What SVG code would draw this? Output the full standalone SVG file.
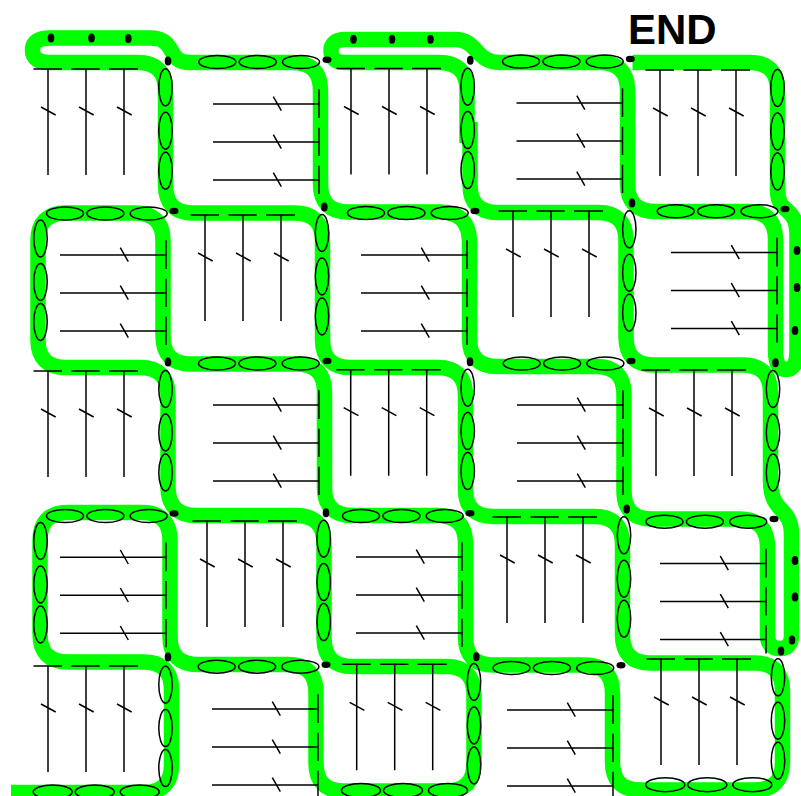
<svg xmlns="http://www.w3.org/2000/svg" width="801" height="796" viewBox="0 0 801 796">
<style>
.s{fill:none;stroke:#0f0;stroke-width:15.5;stroke-linejoin:round}
.k{fill:none;stroke:#000;stroke-width:1.5}
.o{fill:none;stroke:#000;stroke-width:1.5}
.d{fill:#000;stroke:none}
text{font-family:"Liberation Sans",Arial,sans-serif;font-weight:bold;font-size:42px;fill:#000}
</style>
<defs>
<g id="vc"><path class="k" d="M-14.5,0H14M23.5,0H51.7M61,0H90M0,0V106M38,0V106M76,0V106M-7,38L7.7,46M31,38L45.7,46M69,38L83.7,46"/></g>
<g id="hc"><path class="k" d="M0,0H106M0,38H106M0,76H106M106,-14.7V14M106,23.7V52M106,61.7V90M60.3,-7.3L68.3,6.7M60.3,30.7L68.3,44.7M60.3,68.7L68.3,82.7"/></g>
<g id="hv"><ellipse class="o" cx="0" cy="0" rx="18.5" ry="6.5"/><ellipse class="o" cx="40.4" cy="0" rx="18.5" ry="6.5"/><ellipse class="o" cx="83.7" cy="0" rx="18.5" ry="6.5"/></g>
<g id="vv"><ellipse class="o" cx="0" cy="0" rx="6.7" ry="18.5"/><ellipse class="o" cx="0" cy="43.4" rx="6.7" ry="18.5"/><ellipse class="o" cx="0" cy="83.4" rx="6.7" ry="18.5"/></g>
<g id="hb"><ellipse class="o" cx="0" cy="0" rx="19.5" ry="7"/><ellipse class="o" cx="42" cy="0" rx="19.5" ry="7"/><ellipse class="o" cx="87" cy="0" rx="19.5" ry="7"/></g>
</defs>
<g id="connectors">
<path id="ribbon-a" class="s" d="M632.5,62.5H749.5Q777.5,62.5 777.5,90.5V190C777.5,215 797,205 797,235V350Q797,369.5 786,369.5Q775.5,369.5 775.5,350V239.5Q775.5,211.5 747.5,211.5H655.5Q627.5,211.5 627.5,183.5V90.5Q627.5,62.5 599.5,62.5H500C475,62.5 478,39.5 455,39.5H345Q331,39.5 331,51Q331,62.5 345,62.5H439Q467,62.5 467,90.5V143"/>
<path id="ribbon-b" class="s" d="M470,122V184.5Q470,212.5 498,212.5H598Q626,212.5 626,240.5V337Q626,365 654,365H742.5Q770.5,365 770.5,393V480C770.5,515 791.5,505 791.5,535V635Q791.5,648.5 780,648.5Q767.5,648.5 767.5,635V547Q767.5,519 739.5,519H652Q624,519 624,491V394.5Q624,366.5 596,366.5H497.5Q469.5,366.5 469.5,338.5V240Q468,212 440,212H348.5Q320.5,212 320.5,184V90.5Q320.5,62.5 292.5,62.5H190C165,62.5 178,38 150,38H50Q32.5,38 32.5,50Q32.5,62.5 50,62.5H137.5Q165.5,62.5 165.5,90.5V185Q165.5,213 193.5,213H294.5Q322.5,213 322.5,241V339.5Q322.5,367.5 350.5,367.5H437.5Q465.5,367.5 465.5,395.5V489.5Q465.5,516.5 493.5,516.5H594.5Q622.5,516.5 622.5,544.5V635Q622.5,663 650.5,663H754.5Q782.5,663 782.5,691V762Q782.5,790 754.5,790H640.5Q612.5,790 612.5,762V693Q612.5,665 584.5,665H493.5Q465.5,665 465.5,637V543.5Q465.5,515.5 437.5,515.5H352.5Q324.5,515.5 324.5,487.5V392Q324.5,364 296.5,364H191Q163,364 163,336V241Q163,213 135,213H66Q38,213 38,241V339.5Q38,367.5 66,367.5H140Q168,367.5 168,395.5V487.5Q168.5,515.5 196.5,515.5H296Q324,515.5 324,543.5V638.5Q324.5,666.5 352.5,666.5H446Q474,666.5 474,694.5V763Q474,791 446,791H344Q316,791 316,763V692.5Q316,664.5 288,664.5H198Q170,664.5 170,636.5V540.5Q170,512.5 142,512.5H68Q40,512.5 40,540.5V634Q40,662 68,662H143.5Q171.5,662 171.5,690V764.5Q171.5,792.5 143.5,792.5H11"/>
</g>
<g id="v-cells">
<use id="v1" href="#vc" x="48" y="69"/><use id="v2" href="#vc" x="351" y="68.5"/><use id="v3" href="#vc" x="660" y="70"/>
<use id="v4" href="#vc" x="205" y="215"/><use id="v5" href="#vc" x="513" y="211"/>
<use id="v6" href="#vc" x="48" y="371"/><use id="v7" href="#vc" x="350.7" y="369.7"/><use id="v8" href="#vc" x="656" y="370"/>
<use id="v9" href="#vc" x="207" y="521"/><use id="v10" href="#vc" x="507" y="517"/>
<use id="v11" href="#vc" x="48" y="666"/><use id="v12" href="#vc" x="356.7" y="664.3"/><use id="v13" href="#vc" x="661" y="659"/>
</g>
<g id="h-cells">
<use id="h1" href="#hc" x="213" y="104"/><use id="h2" href="#hc" x="516.5" y="103"/>
<use id="h3" href="#hc" x="60" y="255"/><use id="h4" href="#hc" x="361" y="255"/><use id="h5" href="#hc" x="671" y="252.5"/>
<use id="h6" href="#hc" x="213" y="405"/><use id="h7" href="#hc" x="517" y="405"/>
<use id="h8" href="#hc" x="60" y="557.3"/><use id="h9" href="#hc" x="356" y="557"/><use id="h10" href="#hc" x="660" y="563.5"/>
<use id="h11" href="#hc" x="212" y="709"/><use id="h12" href="#hc" x="507" y="710"/>
</g>
<g id="h-ovals">
<use href="#hv" x="217.3" y="62"/><use href="#hv" x="521" y="61.5"/>
<use href="#hv" x="65" y="213.5"/><use href="#hv" x="366" y="213"/><use href="#hv" x="675.7" y="211.3"/>
<use href="#hv" x="217" y="363.5"/><use href="#hv" x="521.7" y="363.5"/>
<use href="#hv" x="65" y="516"/><use href="#hv" x="361" y="516"/><use href="#hv" x="664.5" y="521.7"/>
<use href="#hv" x="216.7" y="666.7"/><use href="#hv" x="511.5" y="668"/>
<use href="#hb" x="52.7" y="792"/><use href="#hb" x="361" y="790.5"/><use href="#hb" x="665.3" y="784.7"/>
</g>
<g id="v-ovals">
<use href="#vv" x="165.5" y="87.3"/><use href="#vv" x="467.7" y="86.7"/><use href="#vv" x="777.5" y="88"/>
<use href="#vv" x="40.5" y="238.5"/><use href="#vv" x="322" y="233"/><use href="#vv" x="629.3" y="229.3"/>
<use href="#vv" x="165.5" y="389"/><use href="#vv" x="467.7" y="387.7"/><use href="#vv" x="773" y="389"/>
<use href="#vv" x="40.5" y="541"/><use href="#vv" x="323.7" y="538.7"/><use href="#vv" x="624" y="535.3"/>
<use href="#vv" x="165.5" y="684.7"/><use href="#vv" x="474" y="682"/><use href="#vv" x="778" y="677.3"/>
</g>
<g id="dots" class="d">
<ellipse cx="51" cy="38" rx="3.3" ry="4.5"/><ellipse cx="91.5" cy="38" rx="3.3" ry="4.5"/><ellipse cx="128.3" cy="38.5" rx="3.3" ry="4.5"/>
<ellipse cx="168" cy="61" rx="3.3" ry="4.5"/><ellipse cx="327" cy="59.7" rx="4.5" ry="3.3"/>
<ellipse cx="353.5" cy="39.3" rx="3.3" ry="4.5"/><ellipse cx="392" cy="39.3" rx="3.3" ry="4.5"/><ellipse cx="430.5" cy="39.3" rx="3.3" ry="4.5"/>
<ellipse cx="470.3" cy="60.3" rx="3.3" ry="4.5"/><ellipse cx="630.3" cy="59" rx="4.5" ry="3.3"/>
<ellipse cx="174" cy="211" rx="4.5" ry="3.3"/><ellipse cx="324.3" cy="207" rx="3.3" ry="4.5"/><ellipse cx="475" cy="211" rx="4.5" ry="3.3"/>
<ellipse cx="632" cy="203" rx="3.3" ry="4.5"/><ellipse cx="785" cy="209" rx="4.5" ry="3.3"/>
<ellipse cx="797" cy="250.5" rx="3.3" ry="4.5"/><ellipse cx="797" cy="287.5" rx="3.3" ry="4.5"/><ellipse cx="795" cy="330.5" rx="3.3" ry="4.5"/>
<ellipse cx="168" cy="362" rx="3.3" ry="4.5"/><ellipse cx="327" cy="361" rx="4.5" ry="3.3"/><ellipse cx="470" cy="361.7" rx="3.3" ry="4.5"/>
<ellipse cx="631" cy="361" rx="4.5" ry="3.3"/><ellipse cx="775.5" cy="362.7" rx="3.3" ry="4.5"/>
<ellipse cx="174" cy="513.5" rx="4.5" ry="3.3"/><ellipse cx="326" cy="512.7" rx="3.3" ry="4.5"/><ellipse cx="470" cy="513.3" rx="4.5" ry="3.3"/>
<ellipse cx="626.7" cy="509" rx="3.3" ry="4.5"/><ellipse cx="774" cy="519" rx="4.5" ry="3.3"/>
<ellipse cx="795" cy="560.5" rx="3.3" ry="4.5"/><ellipse cx="795" cy="597" rx="3.3" ry="4.5"/><ellipse cx="792" cy="640" rx="3.3" ry="4.5"/><ellipse cx="781" cy="651" rx="3.3" ry="4.5"/>
<ellipse cx="168" cy="657" rx="3.3" ry="4.5"/><ellipse cx="326" cy="664.7" rx="4.5" ry="3.3"/><ellipse cx="476.3" cy="656.7" rx="3.3" ry="4.5"/><ellipse cx="621" cy="665.3" rx="4.5" ry="3.3"/>
</g>
<text id="end-label" x="628" y="44">END</text>
</svg>
